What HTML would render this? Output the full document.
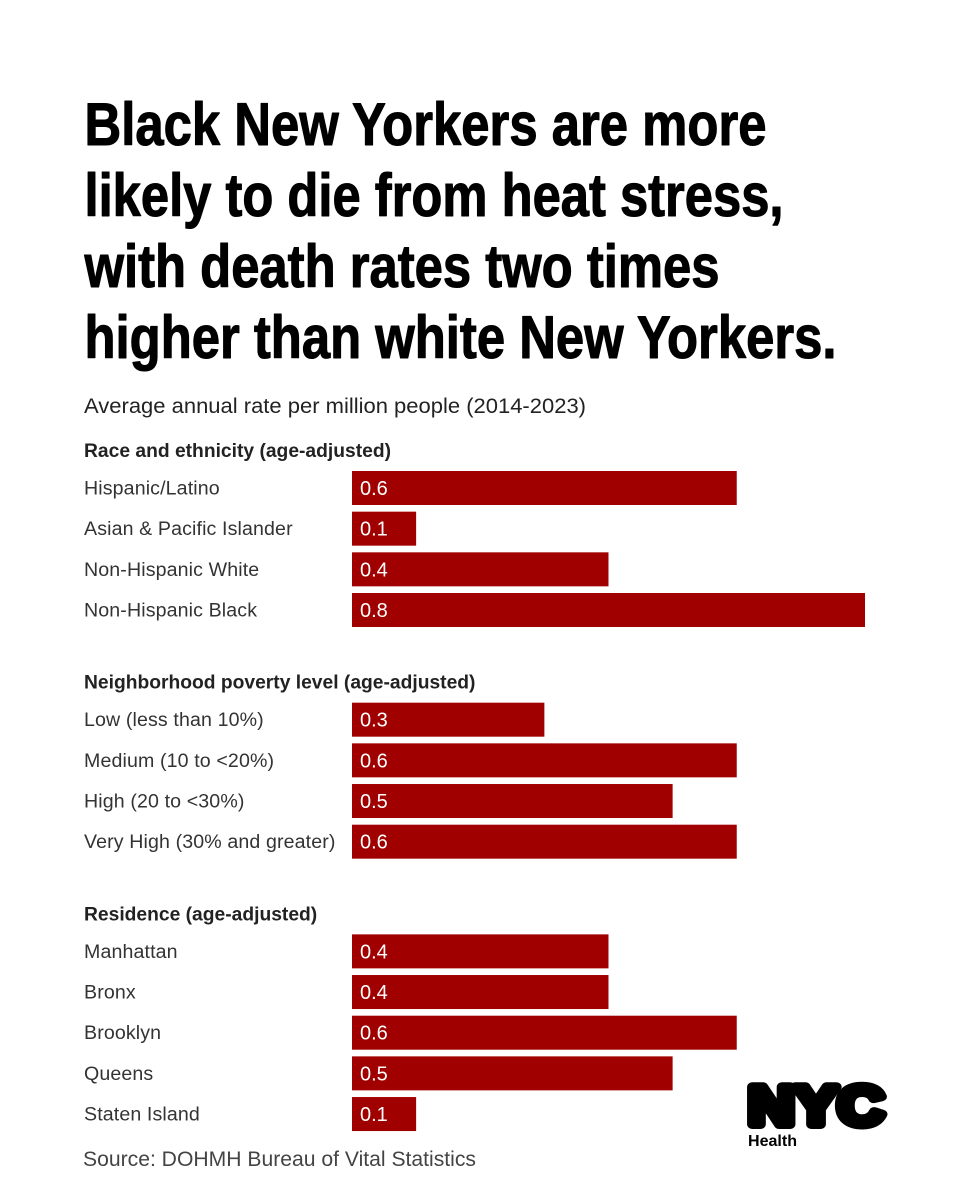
<!DOCTYPE html>
<html lang="en">
<head>
<meta charset="utf-8">
<title>Heat stress death rates</title>
<style>
html,body{margin:0;padding:0;background:#fff;width:960px;height:1200px;overflow:hidden}
svg{display:block}
text{font-family:"Liberation Sans",sans-serif}
</style>
</head>
<body>
<svg id="chart" width="960" height="1200" viewBox="0 0 960 1200" xmlns="http://www.w3.org/2000/svg">
  <rect width="960" height="1200" fill="#fff"/>
  <g font-weight="700" font-size="60" fill="#000" stroke="#000" stroke-width="1.1" stroke-linejoin="round">
    <text x="84.5" y="145" textLength="682" lengthAdjust="spacingAndGlyphs">Black New Yorkers are more</text>
    <text x="84.5" y="216" textLength="699" lengthAdjust="spacingAndGlyphs">likely to die from heat stress,</text>
    <text x="84.5" y="287" textLength="635" lengthAdjust="spacingAndGlyphs">with death rates two times</text>
    <text x="84.5" y="358" textLength="752" lengthAdjust="spacingAndGlyphs">higher than white New Yorkers.</text>
  </g>
  <text x="84" y="413" font-size="20.8" fill="#222" textLength="502" lengthAdjust="spacingAndGlyphs">Average annual rate per million people (2014-2023)</text>
  <g id="plot"></g>
  <text x="83" y="1166" font-size="20.8" fill="#444" textLength="393" lengthAdjust="spacingAndGlyphs">Source: DOHMH Bureau of Vital Statistics</text>
  <g>
    <text x="748" y="1124.5" font-size="55" font-weight="700" fill="#000" stroke="#000" stroke-width="9" stroke-linejoin="round" textLength="136" lengthAdjust="spacingAndGlyphs">NYC</text>
    <text x="748" y="1146" font-size="15.5" font-weight="700" fill="#000" textLength="49" lengthAdjust="spacingAndGlyphs">Health</text>
  </g>
</svg>
<script>
var groupTitles = ["Race and ethnicity (age-adjusted)", "Neighborhood poverty level (age-adjusted)", "Residence (age-adjusted)"];
var raceLabels = ["Hispanic/Latino", "Asian & Pacific Islander", "Non-Hispanic White", "Non-Hispanic Black"];
var raceValues = [0.6, 0.1, 0.4, 0.8];
var povertyLabels = ["Low (less than 10%)", "Medium (10 to <20%)", "High (20 to <30%)", "Very High (30% and greater)"];
var povertyValues = [0.3, 0.6, 0.5, 0.6];
var residenceLabels = ["Manhattan", "Bronx", "Brooklyn", "Queens", "Staten Island"];
var residenceValues = [0.4, 0.4, 0.6, 0.5, 0.1];

var SVG_NS = "http://www.w3.org/2000/svg";
var plot = document.getElementById("plot");
var BAR_X0 = 352, PX_PER_UNIT = 641.25, ROW_STEP = 40.67, BAR_H = 34, GROUP_GAP = 69, FIRST_TOP = 471;

function xScale(v) { return v * PX_PER_UNIT; }

function make(tag, attrs, text) {
  var el = document.createElementNS(SVG_NS, tag);
  for (var k in attrs) el.setAttribute(k, attrs[k]);
  if (text !== undefined) el.textContent = text;
  return el;
}

function drawGroup(title, labels, values, top, key) {
  var g = make("g", {});
  
  
  var head = make("text", {x: 84, y: top - 14, "font-size": 19.25, "font-weight": 700, fill: "#222"}, title);
  
  
  g.appendChild(head);
  labels.forEach(function (label, i) {
    var y = top + i * ROW_STEP;
    var lab = make("text", {x: 84, y: y + 23.5, "font-size": 19.6, "letter-spacing": 0.12, fill: "#333"}, label);
    
    
    g.appendChild(lab);
    var bar = make("rect", {x: BAR_X0, y: y, width: xScale(values[i]), height: BAR_H, fill: "#a00000"});
    
    
    g.appendChild(bar);
    var val = make("text", {x: BAR_X0 + 8, y: y + 24, "font-size": 20, fill: "#fff"}, values[i].toFixed(1));
    
    
    g.appendChild(val);
  });
  plot.appendChild(g);
  return top + labels.length * ROW_STEP + GROUP_GAP;
}

var nextTop = FIRST_TOP;
nextTop = drawGroup(groupTitles[0], raceLabels, raceValues, nextTop, "race");
nextTop = drawGroup(groupTitles[1], povertyLabels, povertyValues, nextTop, "poverty");
nextTop = drawGroup(groupTitles[2], residenceLabels, residenceValues, nextTop, "residence");
</script>
</body>
</html>
